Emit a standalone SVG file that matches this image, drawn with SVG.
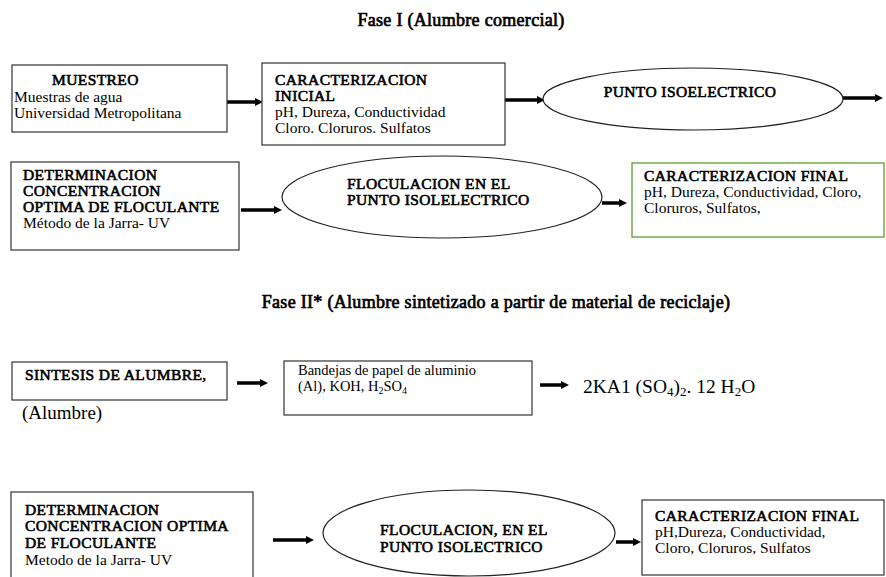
<svg xmlns="http://www.w3.org/2000/svg" width="886" height="577" viewBox="0 0 886 577">
<defs>
<marker id="ah" viewBox="0 0 8 8" refX="3" refY="4" markerWidth="8" markerHeight="8" markerUnits="userSpaceOnUse" orient="auto"><path d="M0,0 L8,4 L0,8 z" fill="#000"/></marker>
<style>
.t{font-family:"Liberation Serif","Times New Roman",serif;font-weight:normal;fill:#000;font-size:15.5px}
.b{stroke:#000;stroke-width:0.6;letter-spacing:0.4px}
.title{font-size:18px;stroke:#000;stroke-width:0.7;letter-spacing:0.3px;text-anchor:middle}
.box{fill:#fff;stroke:#333;stroke-width:1.2}
.ell{fill:#fff;stroke:#222;stroke-width:1.2}
.arr{stroke:#000;stroke-width:3.5;fill:none;marker-end:url(#ah)}
</style>
</defs>
<rect width="886" height="577" fill="#fff"/>
<text class="t title" x="461" y="26">Fase I (Alumbre comercial)</text>
<text class="t title" x="496" y="308">Fase II* (Alumbre sintetizado a partir de material de reciclaje)</text>

<g id="connectors">
<line class="arr" x1="227" y1="102" x2="258" y2="102"/>
<line class="arr" x1="505" y1="100" x2="540" y2="100"/>
<line class="arr" x1="843" y1="98" x2="878" y2="98"/>
<line class="arr" x1="241" y1="210" x2="277" y2="210"/>
<line class="arr" x1="602" y1="203" x2="622" y2="203"/>
<line class="arr" x1="237" y1="383" x2="263" y2="383"/>
<line class="arr" x1="540" y1="385" x2="564" y2="385"/>
<line class="arr" x1="273" y1="540" x2="309" y2="540"/>
<line class="arr" x1="616" y1="542" x2="636" y2="542"/>
</g>

<g id="muestreo">
<rect class="box" x="12" y="65" width="215" height="67"/>
<text class="t b" x="52" y="85">MUESTREO</text>
<text class="t" x="14" y="102">Muestras de agua</text>
<text class="t" x="14" y="118">Universidad Metropolitana</text>
</g>

<g id="caracterizacion-inicial">
<rect class="box" x="262" y="63" width="243" height="82"/>
<text class="t b" x="275" y="85">CARACTERIZACION</text>
<text class="t b" x="275" y="101">INICIAL</text>
<text class="t" x="275" y="117">pH, Dureza, Conductividad</text>
<text class="t" x="275" y="133">Cloro. Cloruros. Sulfatos</text>
</g>

<g id="punto-isoelectrico">
<ellipse class="ell" cx="693" cy="99" rx="150" ry="31"/>
<text class="t b" x="690" y="97" text-anchor="middle">PUNTO ISOELECTRICO</text>
</g>

<g id="determinacion-1">
<rect class="box" x="11" y="162" width="228" height="88"/>
<text class="t b" x="23" y="180">DETERMINACION</text>
<text class="t b" x="23" y="196">CONCENTRACION</text>
<text class="t b" x="23" y="212">OPTIMA DE FLOCULANTE</text>
<text class="t" x="23" y="228">Método de la Jarra- UV</text>
</g>

<g id="floculacion-1">
<ellipse class="ell" cx="442" cy="197" rx="160" ry="41"/>
<text class="t b" x="347" y="189">FLOCULACION EN EL</text>
<text class="t b" x="347" y="205">PUNTO ISOLELECTRICO</text>
</g>

<g id="caracterizacion-final-1">
<rect x="632" y="163" width="252" height="74" fill="#fff" stroke="#70AD47" stroke-width="1.5"/>
<text class="t b" x="644" y="181">CARACTERIZACION FINAL</text>
<text class="t" x="644" y="197">pH, Dureza, Conductividad, Cloro,</text>
<text class="t" x="644" y="213">Cloruros, Sulfatos,</text>
</g>

<g id="sintesis">
<rect class="box" x="12" y="362" width="215" height="38"/>
<text class="t b" x="25" y="380">SINTESIS DE ALUMBRE,</text>
<text class="t" x="22" y="419" style="font-size:19px">(Alumbre)</text>
</g>

<g id="bandejas">
<rect class="box" x="284" y="361" width="248" height="54"/>
<text class="t" x="298" y="375" style="font-size:14.5px">Bandejas de papel de aluminio</text>
<text class="t" x="298" y="391" style="font-size:14.5px">(Al), KOH, H<tspan font-size="10px" dy="3">2</tspan><tspan dy="-3">SO</tspan><tspan font-size="10px" dy="3">4</tspan></text>
</g>

<g id="producto">
<text class="t" x="583" y="393" style="font-size:19.5px">2KA1 (SO<tspan font-size="13px" dy="3">4</tspan><tspan dy="-3">)</tspan><tspan font-size="13px" dy="3">2</tspan><tspan dy="-3">. 12 H</tspan><tspan font-size="13px" dy="3">2</tspan><tspan dy="-3">O</tspan></text>
</g>

<g id="determinacion-2">
<rect class="box" x="11" y="492" width="242" height="90"/>
<text class="t b" x="25" y="515">DETERMINACION</text>
<text class="t b" x="25" y="531">CONCENTRACION OPTIMA</text>
<text class="t b" x="25" y="548">DE FLOCULANTE</text>
<text class="t" x="25" y="565">Metodo de la Jarra- UV</text>
</g>

<g id="floculacion-2">
<ellipse class="ell" cx="469" cy="533" rx="146" ry="43"/>
<text class="t b" x="380" y="535">FLOCULACION, EN EL</text>
<text class="t b" x="380" y="552">PUNTO ISOLECTRICO</text>
</g>

<g id="caracterizacion-final-2">
<rect class="box" x="642" y="500" width="242" height="75"/>
<text class="t b" x="655" y="521">CARACTERIZACION FINAL</text>
<text class="t" x="655" y="537">pH,Dureza, Conductividad,</text>
<text class="t" x="655" y="553">Cloro, Cloruros, Sulfatos</text>
</g>
</svg>
